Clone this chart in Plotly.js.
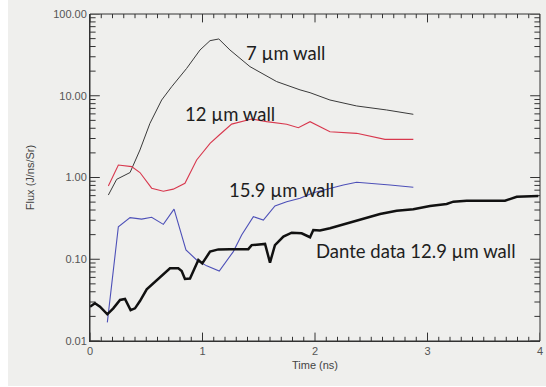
<!DOCTYPE html>
<html>
<head>
<meta charset="utf-8">
<script src="https://cdn.plot.ly/plotly-3.0.1.min.js"></script>
<style>
html,body{margin:0;padding:0;background:#ffffff;}
#chart{position:absolute;left:8px;top:0;width:538px;height:386px;}
</style>
</head>
<body>
<div id="chart"></div>
<script>
// 7 µm wall (simulation)
const t7 = [0.163,0.237,0.356,0.444,0.533,0.637,0.726,0.859,0.978,1.067,1.145,1.244,1.422,1.659,1.867,1.956,2.133,2.37,2.637,2.874];
const f7 = [0.61,0.95,1.15,2.17,4.6,8.87,12.9,21.6,36.3,47.2,49.5,36.3,22.7,14.9,11.8,10.9,8.87,7.5,6.7,5.93];

// 12 µm wall (simulation)
const t12 = [0.163,0.252,0.37,0.444,0.548,0.652,0.74,0.844,0.948,1.067,1.149,1.259,1.437,1.57,1.748,1.852,1.956,2.133,2.37,2.622,2.874];
const f12 = [0.787,1.42,1.36,1.15,0.74,0.68,0.72,0.85,1.64,2.62,3.31,4.5,5.2,4.82,4.48,4.07,4.82,3.63,3.47,2.93,2.93];

// 15.9 µm wall (simulation)
const t159 = [0.154,0.252,0.356,0.459,0.548,0.652,0.747,0.853,0.948,1.037,1.149,1.274,1.348,1.452,1.541,1.644,1.748,1.867,1.985,2.133,2.252,2.37,2.489,2.667,2.874];
const f159 = [0.0169,0.25,0.323,0.31,0.326,0.267,0.41,0.13,0.098,0.083,0.0718,0.124,0.198,0.332,0.302,0.448,0.506,0.556,0.652,0.738,0.81,0.873,0.85,0.81,0.76];

// Dante data 12.9 µm wall
const tD = [0,0.044,0.089,0.154,0.207,0.267,0.311,0.361,0.4,0.444,0.504,0.593,0.667,0.711,0.785,0.815,0.844,0.889,0.963,0.998,1.067,1.141,1.244,1.407,1.437,1.556,1.6,1.644,1.719,1.793,1.881,1.956,1.985,2.044,2.133,2.281,2.43,2.578,2.726,2.874,3.022,3.17,3.23,3.348,3.689,3.793,3.985];
const fD = [0.0263,0.0289,0.0263,0.0212,0.0251,0.0318,0.0327,0.0239,0.0251,0.0308,0.0428,0.0557,0.069,0.0774,0.0774,0.0718,0.0573,0.058,0.098,0.089,0.124,0.132,0.133,0.133,0.149,0.154,0.091,0.149,0.189,0.211,0.208,0.186,0.228,0.225,0.239,0.275,0.317,0.358,0.393,0.408,0.448,0.474,0.506,0.52,0.52,0.582,0.594];

const labelTexts = ["7 µm wall","12 µm wall","15.9 µm wall","Dante data 12.9 µm wall"];
const labelX = [1.369,0.827,1.218,1.995];
const labelY = [33.3,5.98,0.703,0.126];

// axis ticks
const xMajorTicks = [0,1,2,3,4];
const yMajorTicks = [0.01,0.1,1,10,100];
const xMinorTicks = [];
for (let i = 1; i < 40; i++) { if (i % 10 !== 0) xMinorTicks.push(i / 10); }
const yMinorTicks = [];
[0.01,0.1,1,10].forEach(d => { for (let k = 2; k <= 9; k++) yMinorTicks.push(d * k); });

const xMin = 0, xMax = 4, yMin = 0.01, yMax = 100;

// tick marks: a line marker centred on the frame edge, clipped by the plot area so only the inner half shows
function tickTrace(xs, ys, symbol, len){
  return {x:xs, y:ys, mode:'markers', hoverinfo:'skip', cliponaxis:true, showlegend:false,
    marker:{symbol:symbol, size:2*len, color:'#333', line:{color:'#333', width:1}}};
}
const rep = (v, n) => new Array(n).fill(v);

const traces = [
  tickTrace(xMajorTicks, rep(yMin, xMajorTicks.length), 'line-ns', 6),
  tickTrace(xMajorTicks, rep(yMax, xMajorTicks.length), 'line-ns', 6),
  tickTrace(xMinorTicks, rep(yMin, xMinorTicks.length), 'line-ns', 3),
  tickTrace(xMinorTicks, rep(yMax, xMinorTicks.length), 'line-ns', 3),
  tickTrace(rep(xMin, yMajorTicks.length), yMajorTicks, 'line-ew', 7),
  tickTrace(rep(xMax, yMajorTicks.length), yMajorTicks, 'line-ew', 7),
  tickTrace(rep(xMin, yMinorTicks.length), yMinorTicks, 'line-ew', 4),
  tickTrace(rep(xMax, yMinorTicks.length), yMinorTicks, 'line-ew', 4),
  {x:t7, y:f7, mode:'lines', line:{color:'#3a3a3a', width:1}, hoverinfo:'skip'},
  {x:t12, y:f12, mode:'lines', line:{color:'#d8384e', width:1.1}, hoverinfo:'skip'},
  {x:t159, y:f159, mode:'lines', line:{color:'#4d50b8', width:1.1}, hoverinfo:'skip'},
  {x:tD, y:fD, mode:'lines', line:{color:'#111111', width:2.5}, hoverinfo:'skip'}
];

const tickFont = {family:'Liberation Sans, Arial, sans-serif', size:11, color:'#555555'};
const titleFont = {family:'Liberation Sans, Arial, sans-serif', size:11, color:'#444'};

const layout = {
  width:538, height:386,
  margin:{l:82, r:6, t:14, b:45},
  paper_bgcolor:'#efefed',
  plot_bgcolor:'#efefed',
  showlegend:false,
  xaxis:{
    range:[xMin,xMax], dtick:1, ticks:'',
    showline:true, linecolor:'#333',
    showgrid:false, zeroline:false,
    tickfont:tickFont,
    title:{text:'Time (ns)', font:titleFont, standoff:5}
  },
  yaxis:{
    type:'log', range:[Math.log10(yMin),Math.log10(yMax)], dtick:1, tickformat:'.2f', ticks:'',
    showline:true, linecolor:'#333',
    showgrid:false, zeroline:false,
    tickfont:tickFont,
    title:{text:'Flux (J/ns/Sr)', font:titleFont, standoff:16}
  },
  shapes:[{type:'rect', xref:'paper', yref:'paper', x0:0, x1:1, y0:0, y1:1,
    line:{color:'#333', width:1}, fillcolor:'rgba(0,0,0,0)', layer:'above'}],
  annotations: labelTexts.map((t,i)=>({
    x:labelX[i], y:Math.log10(labelY[i]), xref:'x', yref:'y',
    text:t, showarrow:false, xanchor:'left', yanchor:'middle',
    font:{family:'Lato, "Open Sans", sans-serif', size:18.5, color:'#1e1e1e'}
  }))
};

Plotly.newPlot('chart', traces, layout, {displayModeBar:false});
</script>
</body>
</html>
